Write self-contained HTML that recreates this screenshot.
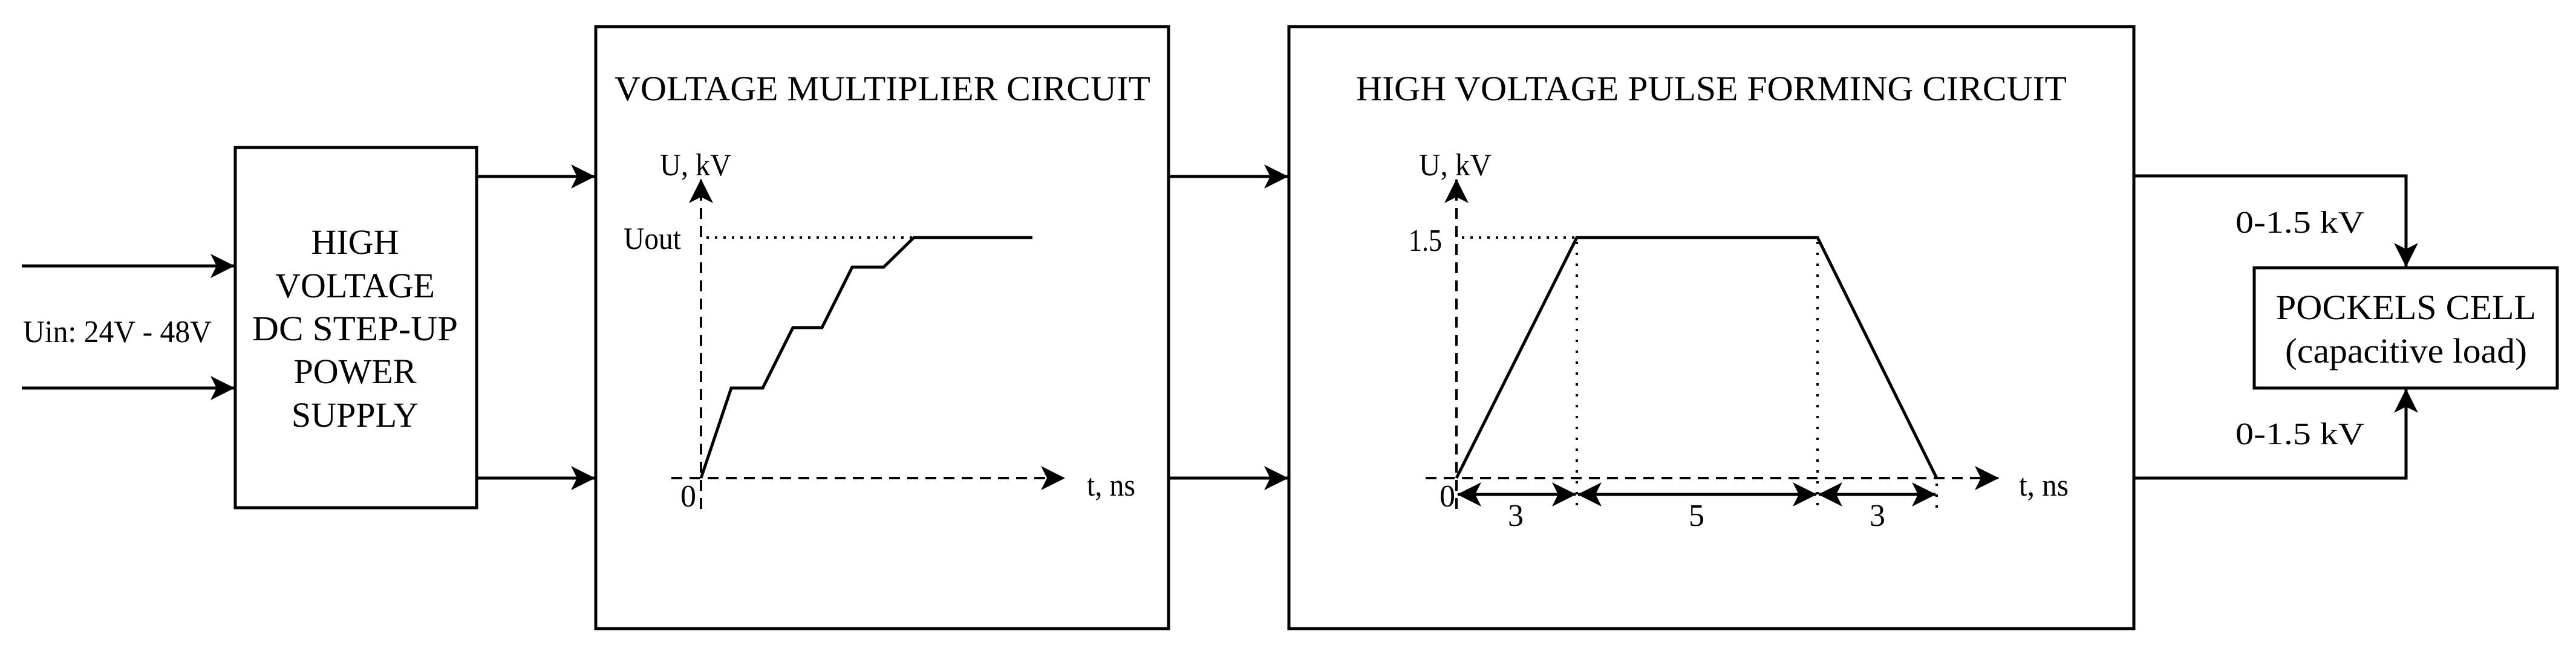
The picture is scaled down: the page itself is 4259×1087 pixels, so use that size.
<!DOCTYPE html>
<html><head><meta charset="utf-8"><style>html,body{margin:0;padding:0;background:#fff}svg{display:block}text{font-family:"Liberation Serif",serif;fill:#000}</style></head>
<body>
<svg width="4259" height="1087" viewBox="0 0 4259 1087" xmlns="http://www.w3.org/2000/svg">
<defs>
<marker id="b" viewBox="0 0 40 40" refX="39" refY="20" markerWidth="40" markerHeight="40" markerUnits="userSpaceOnUse" orient="auto-start-reverse"><path d="M0,0 L40,20 L0,40 L10,20 Z" fill="#000"/></marker>
</defs>
<g fill="none" stroke="#000" stroke-width="5">
<rect x="389" y="244" width="399" height="596"/>
<rect x="985" y="44" width="947" height="996"/>
<rect x="2131" y="44" width="1397" height="996"/>
<rect x="3727" y="443" width="501" height="199"/>
</g>
<g stroke="#000" stroke-width="5" fill="none" marker-end="url(#b)">
<line x1="36" y1="440" x2="387" y2="440"/>
<line x1="36" y1="642" x2="387" y2="642"/>
<line x1="788" y1="292" x2="983" y2="292"/>
<line x1="788" y1="791" x2="983" y2="791"/>
<line x1="1932" y1="292" x2="2129" y2="292"/>
<line x1="1932" y1="791" x2="2129" y2="791"/>
<polyline points="3528,291 3978,291 3978,441"/>
<polyline points="3528,791 3978,791 3978,644"/>
</g>
<g stroke="#000" stroke-width="4" fill="none">
<line x1="1159" y1="842" x2="1159" y2="297" stroke-dasharray="18,12" marker-end="url(#b)"/>
<line x1="1110" y1="791" x2="1760" y2="791" stroke-dasharray="18,12" marker-end="url(#b)"/>
<line x1="1168" y1="393" x2="1511" y2="393" stroke-dasharray="4,10"/>
<polyline stroke-width="5" points="1159,791 1209,642 1261,642 1311,542 1359,542 1409,442 1461,442 1511,393 1707,393"/>
</g>
<g stroke="#000" stroke-width="4" fill="none">
<line x1="2408" y1="842" x2="2408" y2="297" stroke-dasharray="18,12" marker-end="url(#b)"/>
<line x1="2357" y1="791" x2="3304" y2="791" stroke-dasharray="18,12" marker-end="url(#b)"/>
<line x1="2417" y1="393" x2="2607" y2="393" stroke-dasharray="4,10"/>
<line x1="2607" y1="400" x2="2607" y2="842" stroke-dasharray="4,14"/>
<line x1="3005" y1="400" x2="3005" y2="842" stroke-dasharray="4,14"/>
<line x1="3202" y1="800" x2="3202" y2="842" stroke-dasharray="4,14"/>
<polyline stroke-width="5" points="2408,791 2607,393 3005,393 3202,791"/>
<g stroke-width="5" marker-start="url(#b)" marker-end="url(#b)">
<line x1="2410" y1="818" x2="2605" y2="818"/>
<line x1="2609" y1="818" x2="3003" y2="818"/>
<line x1="3007" y1="818" x2="3200" y2="818"/>
</g>
</g>
<g font-size="58" text-anchor="middle">
<text x="587" y="420">HIGH</text>
<text x="587" y="492">VOLTAGE</text>
<text x="587" y="563" textLength="340" lengthAdjust="spacingAndGlyphs">DC STEP-UP</text>
<text x="587" y="634">POWER</text>
<text x="587" y="706">SUPPLY</text>
<text x="3978" y="528" textLength="430" lengthAdjust="spacingAndGlyphs">POCKELS CELL</text>
<text x="3978" y="600" textLength="400" lengthAdjust="spacingAndGlyphs">(capacitive load)</text>
</g>
<g font-size="52">
<text x="38" y="566" textLength="312" lengthAdjust="spacingAndGlyphs">Uin: 24V - 48V</text>
<text x="1016" y="166" font-size="58" textLength="886" lengthAdjust="spacingAndGlyphs">VOLTAGE MULTIPLIER CIRCUIT</text>
<text x="2242" y="166" font-size="58" textLength="1175" lengthAdjust="spacingAndGlyphs">HIGH VOLTAGE PULSE FORMING CIRCUIT</text>
<text x="1091" y="290" textLength="118" lengthAdjust="spacingAndGlyphs">U, kV</text>
<text x="1031" y="412" textLength="95" lengthAdjust="spacingAndGlyphs">Uout</text>
<text x="1125" y="838">0</text>
<text x="1797" y="820" textLength="80" lengthAdjust="spacingAndGlyphs">t, ns</text>
<text x="2346" y="290" textLength="120" lengthAdjust="spacingAndGlyphs">U, kV</text>
<text x="2329" y="415" textLength="55" lengthAdjust="spacingAndGlyphs">1.5</text>
<text x="2380" y="838">0</text>
<text x="3338" y="820" textLength="82" lengthAdjust="spacingAndGlyphs">t, ns</text>
<text x="2493" y="870">3</text>
<text x="2792" y="870">5</text>
<text x="3091" y="870">3</text>
<text x="3696" y="385" textLength="213" lengthAdjust="spacingAndGlyphs">0-1.5 kV</text>
<text x="3696" y="735" textLength="213" lengthAdjust="spacingAndGlyphs">0-1.5 kV</text>
</g>
</svg>
</body></html>
